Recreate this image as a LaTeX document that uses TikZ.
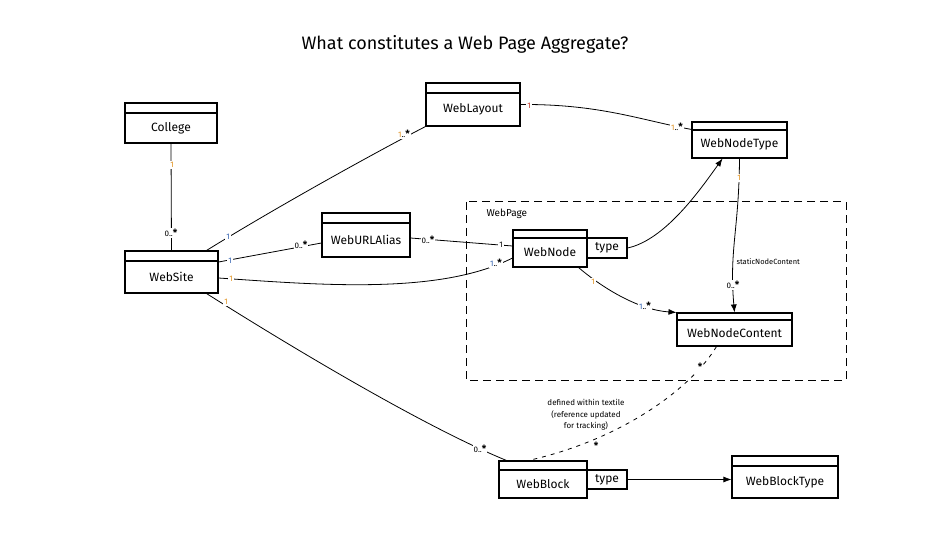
\documentclass[tikz,border=0pt]{standalone}
\usepackage{fontspec}
\setmainfont{Fira Sans}
\usetikzlibrary{arrows.meta,calc}
\definecolor{mor}{HTML}{E0901C}
\definecolor{mbl}{HTML}{3060B0}
\definecolor{mrd}{HTML}{C03020}
\newcommand{\mst}{{\fontsize{10}{10}\selectfont\bfseries *}}
\tikzset{
  cls/.style={draw, line width=1.1pt, fill=white, inner sep=0pt},
  hdr/.style={path picture={\draw[line width=1.1pt] ([yshift=-#1]path picture bounding box.north west) -- ([yshift=-#1]path picture bounding box.north east);}},
  lbl/.style={font=\fontsize{12}{14}\selectfont},
  mult/.style={font=\fontsize{8}{9}\selectfont, inner sep=1pt, fill=white},
  conn/.style={line width=0.8pt},
  arr/.style={line width=0.8pt, -{Latex[length=8pt,width=6pt]}},
  note/.style={font=\fontsize{8}{11.5}\selectfont, align=center}
}
\begin{document}
\begin{tikzpicture}[x=1pt,y=-1pt]
\useasboundingbox (0,0) rectangle (929,553);
% title
\node[font=\fontsize{18}{21}\selectfont] (title) at (465,44) {What constitutes a Web Page Aggregate?};
% WebPage frame
\draw[line width=1pt, dash pattern=on 8pt off 5pt] (466,202) rectangle (846,380);
\node[font=\fontsize{10}{12}\selectfont, anchor=west] (wptitle) at (483,214) {WebPage};
% classes
\node[cls, hdr=10pt, minimum width=92pt, minimum height=40pt, label={[lbl, yshift=-5pt]center:College}] (college) at (171,123) {};
\node[cls, hdr=10pt, minimum width=94pt, minimum height=43pt, label={[lbl, yshift=-5pt]center:WebLayout}] (weblayout) at (473,104.5) {};
\node[cls, hdr=8pt, minimum width=95pt, minimum height=36pt, label={[lbl, yshift=-4pt]center:WebNodeType}] (webnodetype) at (739.5,140) {};
\node[cls, hdr=10pt, minimum width=93pt, minimum height=42pt, label={[lbl, yshift=-5pt]center:WebSite}] (website) at (171.5,272) {};
\node[cls, hdr=10pt, minimum width=88pt, minimum height=44pt, label={[lbl, yshift=-5pt]center:WebURLAlias}] (urlalias) at (366,235) {};
\node[cls, hdr=8pt, minimum width=74pt, minimum height=37pt, label={[lbl, yshift=-4pt]center:WebNode}] (webnode) at (550,248.5) {};
\node[cls, minimum width=40pt, minimum height=20pt, lbl] (nodetype) at (607,248) {type};
\node[cls, hdr=7pt, minimum width=115pt, minimum height=33pt, label={[lbl, yshift=-3.5pt]center:WebNodeContent}] (nodecontent) at (734.5,329.5) {};
\node[cls, hdr=9pt, minimum width=88pt, minimum height=37pt, label={[lbl, yshift=-4.5pt]center:WebBlock}] (webblock) at (543,479.5) {};
\node[cls, minimum width=40pt, minimum height=19pt, lbl] (blocktype) at (607,479.5) {type};
\node[cls, hdr=10pt, minimum width=106pt, minimum height=42pt, label={[lbl, yshift=-5pt]center:WebBlockType}] (webblocktype) at (785,477) {};
% connectors
\draw[conn] (college.south) -- (website.north);
\node[mult, text=mor] (m1) at (172,165) {1};
\node[mult] (m2) at (171,233) {0..\mst};

\draw[conn] ([xshift=-12pt]website.north east) .. controls (280,205) and (380,150) .. (weblayout.south west);
\node[mult, text=mbl] (m3) at (228,237) {1};
\node[mult] (m4) at (404,134) {\textcolor{mor}{1}..\mst};

\draw[conn] (weblayout.east) .. controls (600,104) and (640,120) .. ([yshift=-8pt]webnodetype.north west);
\node[mult, text=mrd] (m5) at (529,106) {1};
\node[mult] (m6) at (677,127) {\textcolor{mor}{1}..\mst};

\draw[conn] ([yshift=10pt]website.east) -- ([yshift=-8pt]urlalias.west);
\node[mult, text=mbl] (m7) at (230,261) {1};
\node[mult] (m8) at (301,245) {0..\mst};

\draw[conn] ([yshift=-3pt]urlalias.east) -- ([yshift=2.5pt]webnode.west);
\node[mult] (m9) at (428,240) {0..\mst};
\node[mult] (m10) at (501,245) {1};

\draw[conn] ([yshift=-6pt]website.east) .. controls (320,285) and (440,295) .. ([yshift=-9.5pt]webnode.west);
\node[mult, text=mor] (m11) at (231,279) {1};
\node[mult] (m12) at (496,263) {\textcolor{mbl}{1}..\mst};

\draw[conn] ([xshift=-12pt]website.south east) .. controls (280,340) and (420,425) .. ([xshift=8pt]webblock.north west);
\node[mult, text=mor] (m13) at (226,302) {1};
\node[mult] (m14) at (480,449) {0..\mst};

\draw[arr] (nodetype.east) .. controls (665,240) and (700,190) .. ([xshift=-17pt]webnodetype.south);
\draw[arr] (webnodetype.south) .. controls (739,230) and (729,250) .. (nodecontent.north);
\node[mult, text=mor] (m15) at (739,178) {1};
\node[font=\fontsize{7.5}{9}\selectfont, anchor=west] (snc) at (733,262) {staticNodeContent};
\node[mult] (m16) at (733,285) {0..\mst};

\draw[arr] ([xshift=-9pt]webnode.south east) .. controls (605,290) and (640,310) .. (nodecontent.north west);
\node[mult, text=mor] (m17) at (593,282) {1};
\node[mult] (m18) at (645,306) {\textcolor{mbl}{1}..\mst};

\draw[conn, dash pattern=on 4pt off 5pt] ([xshift=-18pt]nodecontent.south) .. controls (690,390) and (620,440) .. ([xshift=30pt]webblock.north west);
\node[mult] (m19) at (700,367) {\mst};
\node[mult] (m20) at (596,446) {\mst};
\node[note] (notetext) at (586,415) {defined within textile\\(reference updated\\for tracking)};

\draw[arr] (blocktype.east) -- (webblocktype.west |- blocktype.east);
\end{tikzpicture}
\end{document}
